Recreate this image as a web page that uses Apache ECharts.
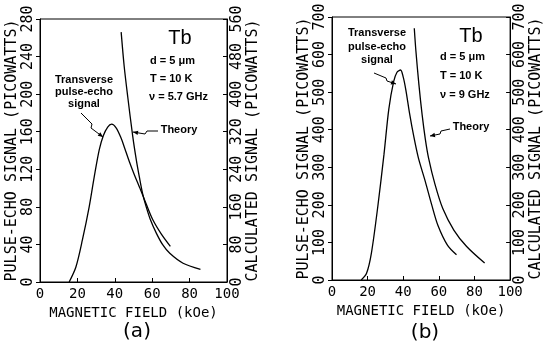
<!DOCTYPE html>
<html>
<head>
<meta charset="utf-8">
<script src="https://cdn.jsdelivr.net/npm/echarts@6/dist/echarts.min.js"></script>
<style>
  html, body { margin: 0; padding: 0; background: #fff; }
  #chart { width: 545px; height: 341px; }
</style>
</head>
<body>
<div id="chart"></div>
<script>
// panel (a), nu = 5.7 GHz
const echoFieldA = [15.6, 19.2, 22.7, 26.3, 29, 31.7, 33.9, 36.2, 38.3, 40.7, 43.4, 45.2, 47.8, 50.5, 53.2, 55, 56.8, 60.4, 64.9, 69.7];
const echoA = [0, 16, 45, 80, 112, 141, 156, 165, 168, 164, 153, 143, 128, 114, 101, 92, 83, 66, 51, 38];
const theoryFieldA = [43.4, 45, 46.9, 49.6, 51.5, 53.2, 55, 56.8, 59, 62.2, 65.5, 69.4, 76.5, 85.8];
const theoryA = [532, 460, 395, 310, 260, 222, 186, 160, 133, 104, 80, 61, 40, 27];

// panel (b), nu = 9 GHz
const echoFieldB = [16.4, 19.4, 22.1, 25.7, 29.2, 31.9, 34.6, 36.5, 38.5, 40, 41.5, 43.5, 46, 48.5, 52.4, 56, 59.5, 64.9, 69.9];
const echoB = [0, 18, 71, 195, 335, 455, 528, 553, 559, 540, 505, 445, 380, 325, 262, 200, 145, 92, 67];
const theoryFieldB = [46.2, 47.1, 48.8, 50.6, 52.4, 54.2, 57.8, 62.2, 68.4, 75.6, 85.7];
const theoryB = [670, 610, 520, 440, 375, 325, 255, 190, 133, 89, 45];

const fieldTicks = [0, 100, 20];
const leftTicksA = [0, 280, 40];
const rightTicksA = [0, 560, 80];
const ticksB = [0, 700, 100];

const pairs = (xs, ys) => xs.map((x, i) => [x, ys[i]]);

const mono = 'DejaVu Sans Mono';
const ink = '#000';

function xAxisOf(grid) {
    return {
        type: 'value', gridIndex: grid,
        min: fieldTicks[0], max: fieldTicks[1], interval: fieldTicks[2],
        splitLine: {show: false},
        axisLine: {lineStyle: {color: ink, width: 1}},
        axisTick: {inside: true, length: 4, lineStyle: {color: ink}},
        axisLabel: {color: ink, fontFamily: mono, fontSize: 14, margin: 5},
        name: 'MAGNETIC FIELD (kOe)', nameLocation: 'middle', nameGap: 16,
        nameTextStyle: {color: ink, fontFamily: mono, fontSize: 14}
    };
}

function yAxisOf(grid, ticks, side, name) {
    return {
        type: 'value', gridIndex: grid, position: side,
        min: ticks[0], max: ticks[1], interval: ticks[2],
        splitLine: {show: false},
        axisLine: {show: true, lineStyle: {color: ink, width: 1}},
        axisTick: {show: true, inside: side === 'right', length: 4, lineStyle: {color: ink}},
        axisLabel: {color: ink, fontFamily: mono, fontSize: 15, rotate: 90, margin: side === 'right' ? 3 : 4},
        name: name, nameLocation: 'middle', nameGap: 18,
        nameTextStyle: {color: ink, fontFamily: mono, fontSize: 15}
    };
}

function curve(xi, yi, data) {
    return {
        type: 'line', xAxisIndex: xi, yAxisIndex: yi,
        data: data, showSymbol: false, smooth: 0.3,
        lineStyle: {color: ink, width: 1.3}, silent: true
    };
}

const bold = {fontFamily: 'Liberation Sans', fontWeight: 'bold', fontSize: 11, fill: ink};

function label(x, y, text, style) {
    return {type: 'text', x: x, y: y, style: Object.assign({text: text, textAlign: 'center', textVerticalAlign: 'middle'}, bold, style || {})};
}

function arrow(points) {
    const n = points.length;
    const [x1, y1] = points[n - 2];
    const [x2, y2] = points[n - 1];
    const a = Math.atan2(y2 - y1, x2 - x1);
    const L = 5, w = 2.2;
    const bx = x2 - L * Math.cos(a), by = y2 - L * Math.sin(a);
    return [
        {type: 'polyline', shape: {points: points}, style: {stroke: ink, lineWidth: 1, fill: null}},
        {type: 'polygon', shape: {points: [[x2, y2],
            [bx + w * Math.sin(a), by - w * Math.cos(a)],
            [bx - w * Math.sin(a), by + w * Math.cos(a)]]}, style: {fill: ink}}
    ];
}

const chart = echarts.init(document.getElementById('chart'), null, {renderer: 'canvas'});
chart.setOption({
    backgroundColor: '#fff',
    animation: false,
    grid: [
        {left: 40, top: 19, width: 187, height: 263, show: true, borderColor: ink, borderWidth: 1},
        {left: 332, top: 17, width: 187, height: 263, show: true, borderColor: ink, borderWidth: 1}
    ],
    xAxis: [xAxisOf(0), xAxisOf(1)],
    yAxis: [
        yAxisOf(0, leftTicksA, 'left', 'PULSE-ECHO SIGNAL (PICOWATTS)'),
        yAxisOf(0, rightTicksA, 'right', 'CALCULATED SIGNAL (PICOWATTS)'),
        yAxisOf(1, ticksB, 'left', 'PULSE-ECHO SIGNAL (PICOWATTS)'),
        yAxisOf(1, ticksB, 'right', 'CALCULATED SIGNAL (PICOWATTS)')
    ],
    series: [
        curve(0, 0, pairs(echoFieldA, echoA)),
        curve(0, 1, pairs(theoryFieldA, theoryA)),
        curve(1, 2, pairs(echoFieldB, echoB)),
        curve(1, 3, pairs(theoryFieldB, theoryB))
    ],
    graphic: [
        // panel (a)
        label(180, 38, 'Tb', {fontWeight: 'normal', fontSize: 20}),
        label(150, 61, 'd = 5 μm', {textAlign: 'left'}),
        label(150, 79, 'T = 10 K', {textAlign: 'left'}),
        label(149, 97, 'ν = 5.7 GHz', {textAlign: 'left'}),
        label(84, 80, 'Transverse'),
        label(84, 92, 'pulse-echo'),
        label(84, 104, 'signal'),
        label(179, 130, 'Theory'),
        ...arrow([[81, 113], [92, 124], [91, 128], [103, 137]]),
        ...arrow([[158, 131], [147, 131], [145, 134], [133, 132]]),
        label(137, 332, '(a)', {fontWeight: 'normal', fontSize: 20, fontFamily: 'DejaVu Sans'}),
        // panel (b)
        label(471, 36, 'Tb', {fontWeight: 'normal', fontSize: 20}),
        label(440, 57, 'd = 5 μm', {textAlign: 'left'}),
        label(440, 76, 'T = 10 K', {textAlign: 'left'}),
        label(440, 95, 'ν = 9 GHz', {textAlign: 'left'}),
        label(377, 33, 'Transverse'),
        label(377, 47, 'pulse-echo'),
        label(377, 60, 'signal'),
        label(471, 127, 'Theory'),
        ...arrow([[374, 73], [386, 78], [387, 81], [396, 84]]),
        ...arrow([[450, 129], [441, 131], [440, 134], [430, 136]]),
        label(425, 333, '(b)', {fontWeight: 'normal', fontSize: 20, fontFamily: 'DejaVu Sans'})
    ]
});
</script>
</body>
</html>
